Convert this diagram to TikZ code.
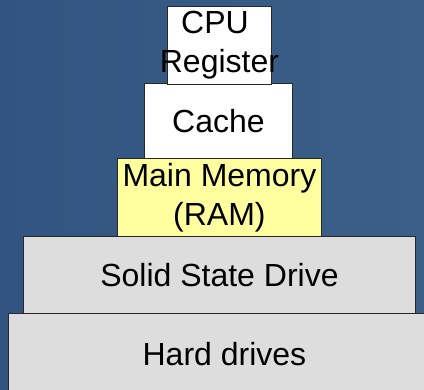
\documentclass[tikz,border=0pt]{standalone}
\usepackage{fontspec}
\setmainfont{Liberation Sans}
\definecolor{bgleft}{RGB}{49,85,128}
\definecolor{bgright}{RGB}{60,95,137}
\definecolor{ramyellow}{RGB}{255,255,160}
\definecolor{diskgray}{RGB}{221,221,221}
\definecolor{edge}{RGB}{40,40,40}
\tikzset{
  level/.style={draw=edge, line width=0.9pt, anchor=north west, inner sep=0pt,
    align=center, text=black, font=\fontsize{32}{39}\selectfont},
}
\begin{document}
\begin{tikzpicture}[x=1pt, y=-1pt]
  \clip (0,0) rectangle (424,390);
  \shade[left color=bgleft, right color=bgright] (0,0) rectangle (424,390);
  % memory hierarchy, widest level at the bottom
  \node[level, fill=diskgray, minimum width=432pt, minimum height=82pt] (hdd) at (8,313) {\raisebox{-2pt}{Hard drives}};
  \node[level, fill=diskgray, minimum width=392pt, minimum height=77pt] (ssd) at (23,236) {Solid State Drive};
  \node[level, fill=ramyellow, minimum width=204pt, minimum height=78pt] (ram) at (117,158) {Main Memory\\(RAM)};
  \node[level, fill=white, minimum width=148pt, minimum height=75pt] (cache) at (144,83) {Cache};
  % the label is wider than its box and spills over both sides
  \node[level, fill=white, minimum width=104pt, minimum height=77pt] (cpu) at (167,6)
    {\makebox[0pt]{\raisebox{-3pt}{\begin{tabular}{@{}c@{}}CPU\kern0.278em\\Register\end{tabular}}}};
\end{tikzpicture}
\end{document}
